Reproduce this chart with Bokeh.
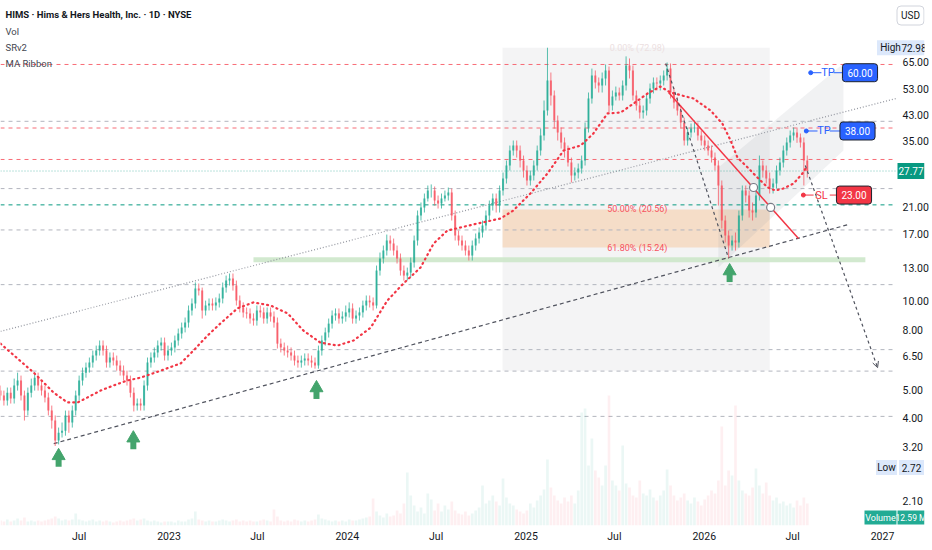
import math
import pandas as pd
from bokeh.plotting import figure
from bokeh.models import (Range1d, LinearScale, FixedTicker, PrintfTickFormatter,
                          CustomJSTickFormatter, BoxAnnotation, Label,
                          ColumnDataSource, Arrow, OpenHead)
from bokeh.core.properties import value
from bokeh.embed import file_html
from bokeh.resources import INLINE

# ---------------- data (weekly bars) ----------------
START = "2022-01-21"
first_open = 4.97
close = [4.78,4.60,4.89,4.67,5.17,5.38,4.78,4.25,4.89,5.17,
         5.50,5.17,4.97,4.71,4.25,3.93,3.36,3.57,3.63,4.09,
         3.87,4.25,4.78,5.38,5.72,5.95,6.19,6.54,6.80,7.07,
         6.80,6.19,6.44,6.29,6.05,5.81,5.59,5.38,4.89,4.42,
         4.49,4.42,5.17,6.19,6.44,6.70,7.07,7.24,6.54,6.80,
         6.97,7.36,7.77,8.14,8.47,9.31,9.84,11.05,10.88,9.31,
         9.68,9.84,9.68,9.92,10.23,11.14,11.77,11.96,11.32,10.06,
         9.53,9.17,9.10,8.74,8.60,9.31,9.17,8.74,9.17,8.88,
         8.47,7.18,6.97,6.80,6.70,6.54,6.29,6.19,6.29,6.39,
         6.29,6.19,6.05,6.80,7.36,7.84,8.40,8.95,9.10,8.74,
         8.88,9.17,9.46,8.74,8.95,9.17,9.68,10.06,9.92,9.68,
         12.73,13.99,14.89,16.11,15.74,14.89,13.99,12.73,12.24,12.53,
         13.56,16.11,19.59,20.86,22.39,23.83,23.83,22.04,21.53,22.39,
         22.92,23.46,19.59,16.75,16.11,15.49,14.89,14.32,15.49,16.36,
         17.15,18.12,19.59,21.19,22.39,21.19,23.83,26.19,28.99,32.61,
         33.91,32.61,30.15,27.88,25.78,26.81,28.99,32.61,36.68,44.62,
         56.45,50.19,41.25,37.55,34.72,32.61,29.68,26.81,27.44,28.33,
         30.15,38.74,49.02,58.70,55.57,54.28,57.34,61.05,46.40,49.80,
         51.38,50.19,54.28,63.49,61.05,50.19,46.40,43.92,44.62,49.02,
         52.98,55.57,55.13,56.45,58.70,62.05,51.38,47.52,44.62,40.62,
         35.27,37.55,38.74,39.06,36.68,35.27,33.91,32.61,30.86,28.99,
         24.79,18.84,16.75,15.49,16.11,15.87,19.59,23.83,22.92,20.38,
         20.06,22.92,28.99,27.88,26.19,24.41,25.18,27.88,29.68,32.61,
         34.72,36.68,37.55,36.11,34.72,30.15,27.77]
high = [5.17,4.97,5.09,5.09,5.46,5.72,5.59,4.97,5.09,5.46,
        5.72,5.72,5.38,5.17,4.89,4.42,4.09,3.72,3.87,4.25,
        4.25,4.42,4.97,5.59,5.95,6.19,6.44,6.80,7.07,7.36,
        7.36,7.07,6.70,6.70,6.54,6.29,6.05,5.81,5.59,5.09,
        4.67,4.67,5.38,6.44,6.70,6.97,7.36,7.53,7.53,7.07,
        7.24,7.65,8.08,8.47,8.81,9.68,10.23,11.60,11.50,11.14,
        10.06,10.23,10.23,10.31,10.63,11.59,12.24,12.44,12.44,11.77,
        10.47,9.92,9.53,9.46,9.10,9.68,9.68,9.53,9.53,9.53,
        9.24,8.81,7.47,7.24,7.07,6.97,6.80,6.54,6.54,6.65,
        6.65,6.54,6.44,7.07,7.65,8.14,8.74,9.31,9.46,9.46,
        9.24,9.68,9.92,9.84,9.31,9.53,10.06,10.47,10.47,10.31,
        13.24,14.66,15.49,16.88,16.75,16.36,15.49,14.55,13.24,13.03,
        14.10,16.75,20.38,21.70,23.28,24.79,25.00,24.60,22.92,23.28,
        23.83,24.40,24.20,20.38,17.42,16.75,16.11,15.49,16.11,17.02,
        17.84,18.84,20.38,22.04,23.28,23.28,24.79,27.44,30.15,33.91,
        35.27,35.27,33.91,31.35,28.99,27.88,30.15,33.91,38.74,48.26,
        72.98,60.10,52.19,42.90,39.06,36.11,33.91,30.86,28.55,29.45,
        31.35,40.62,51.38,61.98,61.05,57.80,60.10,64.00,63.00,52.19,
        53.84,53.40,56.45,68.20,67.10,63.49,52.19,48.26,46.40,51.00,
        55.13,57.80,57.80,58.70,61.05,65.00,64.50,53.40,49.40,46.40,
        42.20,39.06,40.30,41.25,40.62,38.14,36.68,35.27,33.91,32.10,
        30.15,25.78,19.59,17.42,16.75,17.15,20.38,24.79,24.79,23.83,
        21.70,23.83,31.35,30.15,28.99,27.44,26.19,28.99,30.86,33.91,
        36.11,38.14,39.06,39.06,37.26,36.11,31.35]
low = [4.60,4.42,4.42,4.49,4.49,4.97,4.60,3.93,4.09,4.71,
       4.97,4.97,4.78,4.53,4.09,3.69,3.22,3.26,3.44,3.49,
       3.57,3.72,4.09,4.60,5.17,5.50,5.72,5.95,6.29,6.54,
       6.54,5.95,5.95,6.05,5.81,5.59,5.38,5.17,4.71,4.22,
       4.25,4.25,4.25,4.97,5.95,6.19,6.44,6.80,6.29,6.29,
       6.54,6.70,7.07,7.47,7.84,8.14,8.95,9.46,10.47,8.74,
       8.95,9.31,9.31,9.31,9.53,9.84,10.71,11.32,10.88,9.68,
       9.17,8.81,8.74,8.40,8.27,8.27,8.81,8.40,8.40,8.53,
       8.14,6.91,6.70,6.54,6.44,6.29,6.05,5.95,5.95,6.05,
       6.05,5.95,5.90,5.90,6.54,7.07,7.53,8.08,8.60,8.40,
       8.40,8.53,8.81,8.40,8.40,8.60,8.81,9.31,9.53,9.31,
       9.46,12.24,13.45,14.32,14.89,14.32,13.45,12.24,11.77,11.77,
       12.05,13.03,15.49,18.84,20.06,21.87,22.56,21.19,20.70,20.70,
       21.87,22.04,18.84,16.11,15.49,14.89,14.32,13.77,13.77,14.89,
       15.74,16.49,17.42,18.84,20.38,20.06,20.06,22.92,25.18,27.88,
       31.35,30.86,28.55,26.38,24.79,24.79,25.78,27.88,31.35,35.27,
       42.90,46.40,38.74,35.27,33.12,30.86,28.77,25.38,25.78,26.19,
       27.23,28.99,37.55,47.10,53.02,51.38,51.38,54.28,43.92,44.62,
       48.26,48.26,48.26,52.19,57.34,48.26,44.62,41.90,41.90,42.90,
       47.10,51.00,52.19,52.19,54.28,56.45,49.02,45.30,42.90,38.74,
       33.91,33.91,36.11,37.55,35.27,33.91,32.61,31.35,29.68,27.88,
       21.19,17.70,15.87,14.00,14.89,14.89,15.24,18.84,21.70,19.28,
       18.84,19.28,22.04,26.38,25.18,23.28,23.28,24.22,26.81,28.55,
       31.35,33.38,35.27,34.64,33.38,24.79,26.38]
volume = [5,4,6,4,5,7,5,8,4,5, 4,5,4,5,6,7,9,7,5,6,
          5,6,12,6,5,4,5,6,4,5, 4,5,4,3,4,5,4,5,6,7,
          5,6,7,5,4,5,4,3,4,4, 4,3,5,4,4,6,7,14,6,5,
          4,5,4,4,5,6,5,4,5,6, 4,5,4,5,4,4,5,6,5,4,
          16,9,5,4,5,4,6,5,4,5, 4,5,6,11,7,6,5,4,5,4,
          5,4,6,5,5,6,7,8,9,27, 14,10,8,12,9,10,15,12,22,53,
          30,20,14,18,12,32,26,15,22,14, 20,16,24,15,12,11,14,10,12,15,
          18,40,22,25,30,24,20,47,28,22, 20,16,14,12,15,22,18,25,30,36,
          66,38,30,25,22,28,24,30,22,35, 113,117,60,87,55,48,40,60,130,45,
          40,35,80,42,38,30,28,45,32,30, 36,28,25,30,35,56,40,30,25,28,
          32,25,22,28,24,20,26,30,35,32, 45,99,40,55,50,120,45,35,32,30,
          38,57,40,32,43,30,25,28,22,24, 20,22,18,25,20,28,22]

# moving average ribbon (days after START, price)
ma_day = [0,68,109,137,158,178,205,231,260,287,328,369,395,424,450,485,518,553,588,620,
          655,690,723,758,792,825,860,887,915,942,977,1024,1050,1085,1120,1153,1188,1214,1243,1270,
          1296,1325,1351,1372,1419,1454,1478,1495,1509,1530,1550,1571,1587,1603,1624,1642,1650]
ma_val = [7.18,5.72,4.89,4.53,4.53,4.71,4.97,5.17,5.38,5.50,5.81,6.15,6.80,7.65,8.40,9.46,9.92,9.68,9.10,7.96,
          7.24,7.07,7.36,8.14,10.06,11.50,13.03,15.74,17.42,17.84,18.41,19.14,20.38,23.28,27.23,32.61,33.91,37.26,43.60,43.92,
          47.10,51.00,53.84,51.38,49.02,44.62,40.30,35.27,30.86,28.55,26.38,24.41,23.83,24.22,25.18,27.23,28.55]

# price levels & ticks
y_ticks = [2.1, 3.2, 4.0, 5.0, 6.5, 8.0, 10.0, 13.0, 17.0, 21.0, 35.0, 43.0, 53.0, 65.0]
x_tick_dates = ["2022-07-01", "2023-01-01", "2023-07-01", "2024-01-01", "2024-07-01",
                "2025-01-01", "2025-07-01", "2026-01-01", "2026-07-01", "2027-01-01"]
red_levels = [64.0, 38.9, 30.4]
gray_levels = [41.0, 24.2, 17.5, 11.4, 6.85, 5.79, 4.06]
green_level = 21.3
last_price = 27.77
high_price, low_price = 72.98, 2.72
volume_last = "12.59 M"
fib_levels = [20.56, 15.24]
fib_texts = ["50.00% (20.56)", "61.80% (15.24)"]
tp_levels = [60.0, 38.0]
sl_level = 23.0

# drawings (days after START, price)
level_days = (0, 1833)
lower_chan = ([109, 1736], [3.28, 18.26])
upper_chan = ([0, 1833], [7.90, 49.0])
red_trend = ([1368, 1634], [51.38, 16.36])
peak_drop = ([1362, 1491], [64.5, 14.0])
projection = ([1648, 1796], [28.99, 5.95])
zone_days = (1028, 1575)
zone_prices = (5.81, 72.98)
para_days = [1470, 1726, 1726, 1470]
para_prices = [28.55, 64.5, 32.61, 13.03]
band = ([518, 1771], 13.85)
circle_days = [1542, 1577]
circle_prices = [24.41, 20.87]
arrow_days = [119, 272, 647, 1493]
arrow_tips = [3.16, 3.63, 5.38, 13.45]

# ---------------- figure ----------------
FONT = "Roboto"
FW, FH = 924, 525
YMIN, YMAX = 1.7266, 105.66
PX_PER_DAY = 0.48836
K = math.log(YMAX / YMIN) / FH   # ln units per pixel

D0 = pd.Timestamp(START)
def dms(n):
    return (D0 + pd.Timedelta(days=float(n))).value / 1e6

def xpx(px):
    """data x of a horizontal pixel position inside the frame"""
    return dms(px / PX_PER_DAY)

p = figure(x_axis_type="datetime", y_axis_type="log",
           frame_width=FW, frame_height=FH,
           x_range=Range1d(dms(0), dms(FW / PX_PER_DAY)),
           y_range=Range1d(YMIN, YMAX),
           y_axis_location="right", output_backend="svg", toolbar_location=None,
           min_border=0)
p.outline_line_color = None
p.grid.visible = False
p.background_fill_color = "white"

p.extra_y_ranges = {"vol": Range1d(0, FH)}
p.extra_y_scales = {"vol": LinearScale()}

# axes: price labels drawn just inside the right edge
ya = p.yaxis[0]
ya.ticker = FixedTicker(ticks=y_ticks, minor_ticks=[])
ya.formatter = PrintfTickFormatter(format="%.2f")
ya.axis_line_color = None
ya.major_tick_line_color = None
ya.minor_tick_line_color = None
ya.major_tick_out = 0
ya.major_tick_in = 0
ya.major_label_standoff = -22
ya.major_label_text_font_size = "10.5px"
ya.major_label_text_font = FONT
ya.major_label_text_color = "#131722"

xa = p.xaxis[0]
xa.ticker = FixedTicker(ticks=[pd.Timestamp(d).value / 1e6 for d in x_tick_dates], minor_ticks=[])
xa.formatter = CustomJSTickFormatter(code="""
const d = new Date(tick);
return d.getUTCMonth() == 6 ? 'Jul' : String(d.getUTCFullYear());
""")
xa.axis_line_color = None
xa.major_tick_line_color = None
xa.minor_tick_line_color = None
xa.major_tick_out = 0
xa.major_label_standoff = 4
xa.major_label_text_font_size = "10.5px"
xa.major_label_text_font = FONT
xa.major_label_text_color = "#131722"

# background zones
p.add_layout(BoxAnnotation(left=dms(zone_days[0]), right=dms(zone_days[1]),
                           bottom=zone_prices[0], top=zone_prices[1],
                           fill_color="#9598a1", fill_alpha=0.10, line_color=None, level="underlay"))
p.add_layout(BoxAnnotation(left=dms(zone_days[0]), right=dms(zone_days[1]),
                           bottom=fib_levels[1], top=fib_levels[0],
                           fill_color="#f89f50", fill_alpha=0.27, line_color=None, level="underlay"))
p.patch([dms(d) for d in para_days], para_prices, fill_color="#9598a1", fill_alpha=0.13, line_color=None)

# horizontal levels
lx = [dms(d) for d in level_days]
for lv in red_levels:
    p.line(lx, [lv, lv], line_color="#f7525f", line_dash="4 4", line_width=1, line_alpha=0.85)
for lv in gray_levels:
    p.line(lx, [lv, lv], line_color="#b2b5be", line_dash="4 4", line_width=1)
p.line(lx, [green_level] * 2, line_color="#089981", line_dash="4 4", line_width=1)
p.line(lx, [last_price] * 2, line_color="#089981", line_dash="1 2", line_width=1, line_alpha=0.55)

# support band
p.line([dms(d) for d in band[0]], [band[1], band[1]], line_color="#cde7ca", line_width=5, line_alpha=0.9)

# volume
n = len(close)
xs = [dms(7 * i) for i in range(n)]
opens = [first_open] + close[:-1]
UP, DN = "#22ab94", "#f7525f"
colors = [UP if c >= o else DN for o, c in zip(opens, close)]
src = ColumnDataSource(dict(x=xs, o=opens, c=close, h=high, l=low,
                            top=[max(o, c) for o, c in zip(opens, close)],
                            bot=[min(o, c) for o, c in zip(opens, close)],
                            color=colors, vol=volume))
DAY_MS = 86400000
p.vbar(x="x", top="vol", bottom=0, width=5.5 * DAY_MS, fill_color="color", fill_alpha=0.09,
       line_color=None, source=src, y_range_name="vol")

# channel
p.line([dms(d) for d in upper_chan[0]], upper_chan[1], line_color="#9598a1", line_width=1.2, line_dash="1 2")
p.line([dms(d) for d in lower_chan[0]], lower_chan[1], line_color="#50535e", line_width=1.2, line_dash="4 3")

# candles
p.segment(x0="x", y0="l", x1="x", y1="h", line_color="color", line_width=1, line_alpha=0.75, source=src)
p.vbar(x="x", top="top", bottom="bot", width=4.2 * DAY_MS, fill_color="color", fill_alpha=0.75,
       line_color=None, source=src)

# MA ribbon
p.line([dms(d) for d in ma_day], ma_val, line_color="#f23645", line_width=2.2, line_dash="1 4", line_cap="round")

# drawings
p.line([dms(d) for d in red_trend[0]], red_trend[1], line_color="#f23645", line_width=1.5)
p.line([dms(d) for d in peak_drop[0]], peak_drop[1], line_color="#50535e", line_width=1.2, line_dash="3 3")
p.add_layout(Arrow(x_start=dms(projection[0][0]), y_start=projection[1][0],
                   x_end=dms(projection[0][1]), y_end=projection[1][1],
                   line_color="#50535e", line_width=1.2, line_dash="3 3",
                   end=OpenHead(size=6, line_color="#50535e", line_width=1)))
p.scatter([dms(d) for d in circle_days], circle_prices, marker="circle", size=8,
          fill_color="white", line_color="#787b86", line_width=1.2)

# green arrows
GREEN = "#43a46c"
tri_y = [t * math.exp(-7.5 * K) for t in arrow_tips]
stem_y = [t * math.exp(-14.5 * K) for t in arrow_tips]
p.scatter([dms(d) for d in arrow_days], tri_y, marker="triangle", size=13, fill_color=GREEN, line_color=GREEN)
p.rect([dms(d) for d in arrow_days], stem_y, width=6, height=8, width_units="screen", height_units="screen",
       fill_color=GREEN, line_color=None)

# TP / SL connectors
BLUE, RED = "#2962ff", "#f23645"
conn = [([1659, 1681], [1706, 1730], tp_levels[0], BLUE),
        ([1650, 1673], [1698, 1726], tp_levels[1], BLUE),
        ([1644, 1665], [1698, 1718], sl_level, RED)]
for a, b, lv, col in conn:
    p.line([dms(d) for d in a], [lv, lv], line_color=col, line_width=1)
    p.line([dms(d) for d in b], [lv, lv], line_color=col, line_width=1)
    p.scatter([dms(a[0])], [lv], marker="circle", size=4, fill_color=col, line_color=col)

def label(text, x, y, color="#131722", size="10.5px", xu="screen", yu="screen", align="center",
          bg=None, border=None, style="normal", pad=3, radius=0, alpha=1.0):
    kw = dict(x=x, y=y, x_units=xu, y_units=yu, text=text, text_color=color, text_alpha=alpha,
              text_font_size=size, text_font=FONT, text_align=align, text_baseline="middle",
              text_font_style=style)
    if bg is not None:
        kw.update(background_fill_color=bg, background_fill_alpha=1.0, padding=pad, border_radius=radius)
    if border is not None:
        kw.update(border_line_color=border, border_line_width=1)
    p.add_layout(Label(**kw))

# legend / title block
label("HIMS · Hims & Hers Health, Inc. · 1D · NYSE", 5, 511, size="9.5px", align="left", style="bold")
label("Vol", 5, 494, color="#434651", size="9.5px", align="left")
label("SRv2", 5, 478, color="#434651", size="9.5px", align="left")
label("MA Ribbon", 5, 462, color="#434651", size="9.5px", align="left")

# fib texts
label("0.00% (72.98)", dms(1304), high_price, color="#ece0e1", size="9px", xu="data", yu="data")
for lv, t in zip(fib_levels, fib_texts):
    label(t, dms(1304), lv, color="#f7525f", size="9px", xu="data", yu="data")

# TP / SL texts and boxes
label("TP", 827.5, tp_levels[0], color=BLUE, size="11px", yu="data")
label("TP", 823.5, tp_levels[1], color=BLUE, size="11px", yu="data")
label("SL", 821, sl_level, color=RED, size="11px", yu="data")
label("60.00", 859.5, tp_levels[0], color="white", size="10px", yu="data", bg=BLUE, border="#1e222d", pad=5, radius=3)
label("38.00", 857, tp_levels[1], color="white", size="10px", yu="data", bg=BLUE, border="#1e222d", pad=5, radius=3)
label("23.00", 853.5, sl_level, color="white", size="10px", yu="data", bg=RED, border="#1e222d", pad=5, radius=3)
label("USD", 910, 510, size="10px", bg="white", border="#d1d4dc", pad=4, radius=4)

# price-scale badges drawn as glyphs (box + text)
LIGHT = "#dce8fb"
def badge(text, xc, w, y, fill, color, size="10px", h=15, rng="default"):
    p.rect([xpx(xc)], [y], width=w, height=h, width_units="screen", height_units="screen",
           fill_color=fill, line_color=None, y_range_name=rng)
    p.text([xpx(xc)], [y], text=[text], text_align="center", text_baseline="middle",
           text_font=value(FONT), text_font_size=value(size), text_color=color, y_range_name=rng)

badge("High", 890, 27, high_price, LIGHT, "#131722")
badge(f"{high_price:.2f}", 913.5, 21, high_price, LIGHT, "#131722")
badge(f"{last_price:.2f}", 910.5, 27, last_price, "#089981", "white", h=16)
badge("Low", 886, 21, low_price, LIGHT, "#131722")
badge(f"{low_price:.2f}", 911, 25, low_price, LIGHT, "#131722")
badge("Volume", 880, 32, 8, "#22ab94", "white", size="9px", h=14, rng="vol")
badge(volume_last, 910.5, 27, 8, "#22ab94", "white", size="8.5px", h=14, rng="vol")

open("out.html", "w").write(file_html(p, INLINE))
